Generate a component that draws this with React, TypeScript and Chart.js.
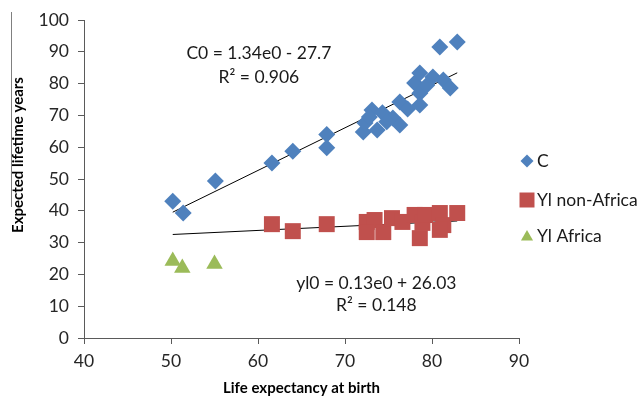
import React, { useEffect, useRef } from 'react';
import { Chart, registerables } from 'chart.js';
import { drawPoint } from 'chart.js/helpers';

Chart.register(...registerables);

// ---- data ----
const seriesNames = ['C', 'Yl non-Africa', 'Yl Africa'];
const seriesColors = ['#4F81BD', '#C0504D', '#9BBB59'];

const cX = [50.2, 51.4, 55.1, 61.6, 64.0, 67.9, 67.9, 72.1, 72.3, 73.1, 73.7, 74.3, 75.5, 76.3, 76.3, 78.0, 78.6, 78.6, 78.6, 80.1, 81.3, 82.1, 80.9, 82.9, 72.8, 74.8, 77.2, 79.4];
const cY = [43.0, 39.3, 49.4, 55.0, 58.7, 64.0, 59.8, 64.8, 67.6, 71.7, 65.4, 70.8, 69.2, 67.0, 74.2, 80.2, 83.3, 77.0, 73.3, 82.1, 81.1, 78.6, 91.5, 93.1, 69.5, 68.0, 72.0, 79.5];

const ylX = [61.6, 64.0, 67.9, 72.5, 73.4, 72.5, 74.4, 75.4, 76.6, 78.0, 78.9, 78.6, 79.2, 80.9, 81.3, 82.9, 80.9];
const ylY = [35.8, 33.6, 35.8, 36.5, 37.1, 33.3, 33.3, 37.7, 36.5, 38.7, 36.2, 31.4, 38.7, 39.3, 35.5, 39.3, 34.0];

const afX = [50.2, 51.3, 55.0];
const afY = [24.2, 22.0, 23.3];

const cTrend = [1.34, -27.7]; // slope, intercept
const ylTrend = [0.13, 26.03];

const cLabel = ['C0 = 1.34e0 - 27.7', 'R² = 0.906'];
const ylLabel = ['yl0 = 0.13e0 + 26.03', 'R² = 0.148'];

const xTitle = 'Life expectancy at birth';
const yTitle = 'Expected lifetime years';

const xMin = 40, xMax = 90, xStep = 10;
const yMin = 0, yMax = 100, yStep = 10;

const FONT = 'Lato, "Open Sans", sans-serif';

const pts = (xs: number[], ys: number[]) => xs.map((x, i) => ({ x, y: ys[i] }));
const trend = (coef: number[], xs: number[]) => {
  const lo = Math.min(...xs);
  const hi = Math.max(...xs);
  return [lo, hi].map((x) => ({ x, y: coef[0] * x + coef[1] }));
};

export default function App() {
  const ref = useRef<HTMLCanvasElement | null>(null);

  useEffect(() => {
    if (!ref.current) return;
    const pointStyles = ['rectRot', 'rect', 'triangle'];
    const legendRadius = [6.5, 10.6, 7];

    const overlay = {
      id: 'overlay',
      afterDraw(chart: any) {
        const ctx = chart.ctx;
        const xs = chart.scales.x;
        const ys = chart.scales.y;
        ctx.save();
        // regression labels
        ctx.fillStyle = '#1a1a1a';
        ctx.font = `17.5px ${FONT}`;
        ctx.textAlign = 'center';
        ctx.textBaseline = 'middle';
        const cx = xs.getPixelForValue(60.1);
        ctx.fillText(cLabel[0], cx, ys.getPixelForValue(89.6));
        ctx.fillText(cLabel[1], cx, ys.getPixelForValue(82.1));
        const yx = xs.getPixelForValue(73.6);
        ctx.fillText(ylLabel[0], yx, ys.getPixelForValue(17.3));
        ctx.fillText(ylLabel[1], yx, ys.getPixelForValue(10.4));

        // y title
        ctx.save();
        ctx.translate(18, 155);
        ctx.rotate(-Math.PI / 2);
        ctx.font = `bold 15px ${FONT}`;
        ctx.fillStyle = '#000';
        ctx.fillText(yTitle, 0, 0);
        ctx.restore();

        // stray vertical line seen in the reference
        ctx.strokeStyle = '#808080';
        ctx.lineWidth = 1;
        ctx.beginPath();
        ctx.moveTo(11.5, 12);
        ctx.lineTo(11.5, 207);
        ctx.stroke();

        // legend
        const lx = chart.chartArea.right + 8;
        const ly = [161, 200, 236];
        ctx.font = `17.5px ${FONT}`;
        ctx.textAlign = 'left';
        for (let i = 0; i < seriesNames.length; i++) {
          ctx.fillStyle = seriesColors[i];
          ctx.strokeStyle = seriesColors[i];
          drawPoint(ctx, { pointStyle: pointStyles[i], radius: legendRadius[i], rotation: 0, borderWidth: 0 } as any, lx, ly[i] + (i === 2 ? 1 : 0));
          ctx.fillStyle = '#1a1a1a';
          ctx.fillText(seriesNames[i], lx + 10, ly[i]);
        }
        ctx.restore();
      },
    };

    const chart = new Chart(ref.current, {
      type: 'scatter',
      data: {
        datasets: [
          {
            label: seriesNames[0],
            data: pts(cX, cY),
            pointStyle: 'rectRot',
            pointRadius: 8.5,
            backgroundColor: seriesColors[0],
            borderColor: seriesColors[0],
            borderWidth: 0,
          },
          {
            label: seriesNames[1],
            data: pts(ylX, ylY),
            pointStyle: 'rect',
            pointRadius: 11.3,
            backgroundColor: seriesColors[1],
            borderColor: seriesColors[1],
            borderWidth: 0,
          },
          {
            label: seriesNames[2],
            data: pts(afX, afY),
            pointStyle: 'triangle',
            pointRadius: 9.5,
            backgroundColor: seriesColors[2],
            borderColor: seriesColors[2],
            borderWidth: 0,
          },
          {
            type: 'line',
            label: 'trendC',
            data: trend(cTrend, cX),
            showLine: true,
            borderColor: '#000',
            borderWidth: 1,
            pointRadius: 0,
            fill: false,
          } as any,
          {
            type: 'line',
            label: 'trendYl',
            data: trend(ylTrend, [...ylX, ...afX]),
            showLine: true,
            borderColor: '#000',
            borderWidth: 1,
            pointRadius: 0,
            fill: false,
          } as any,
        ],
      },
      options: {
        responsive: false,
        animation: false,
        layout: { padding: { left: 0, top: 20, right: 124, bottom: 0 } },
        plugins: {
          legend: { display: false },
          tooltip: { enabled: false },
        },
        scales: {
          x: {
            type: 'linear',
            min: xMin,
            max: xMax,
            ticks: { stepSize: xStep, color: '#262626', font: { family: FONT, size: 17.5 }, padding: 7 },
            grid: { drawOnChartArea: false, drawTicks: true, tickLength: 6, color: '#5a5a5a' },
            border: { color: '#5a5a5a', width: 1 },
            title: {
              display: true,
              text: xTitle,
              color: '#000',
              font: { family: FONT, size: 15, weight: 'bold' },
              padding: { top: 0, bottom: 9 },
            },
            afterFit: (s: any) => { s.height = 68; },
          },
          y: {
            type: 'linear',
            min: yMin,
            max: yMax,
            ticks: { stepSize: yStep, color: '#262626', font: { family: FONT, size: 17.5 }, padding: 9 },
            grid: { drawOnChartArea: false, drawTicks: true, tickLength: 6, color: '#5a5a5a' },
            border: { color: '#5a5a5a', width: 1 },
            afterFit: (s: any) => { s.width = 84; },
          },
        },
      },
      plugins: [overlay],
    } as any);

    return () => chart.destroy();
  }, []);

  return (
    <div style={{ position: 'absolute', left: 0, top: 0, width: 643, height: 406, background: '#fff' }}>
      <canvas ref={ref} width={643} height={406} style={{ width: 643, height: 406 }} />
    </div>
  );
}
